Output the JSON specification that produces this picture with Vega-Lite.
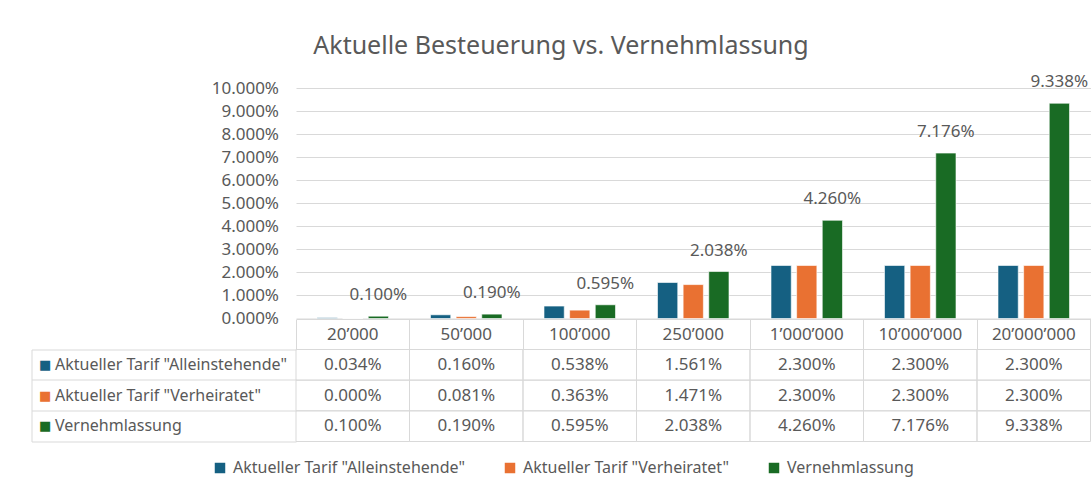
{
  "$schema": "https://vega.github.io/schema/vega-lite/v6.json",
  "background": "white",
  "padding": {"left": 31, "top": 34, "right": 0, "bottom": 1},
  "title": {"text": "Aktuelle Besteuerung vs. Vernehmlassung", "fontSize": 25, "font": "Noto Sans", "fontWeight": "normal", "color": "#595959", "anchor": "middle", "offset": 14},
  "data": {"values": [
    {"cat": "20’000", "series": "Aktueller Tarif \"Alleinstehende\"", "value": 0.00034},
    {"cat": "20’000", "series": "Aktueller Tarif \"Verheiratet\"", "value": 0.0},
    {"cat": "20’000", "series": "Vernehmlassung", "value": 0.001},
    {"cat": "50’000", "series": "Aktueller Tarif \"Alleinstehende\"", "value": 0.0016},
    {"cat": "50’000", "series": "Aktueller Tarif \"Verheiratet\"", "value": 0.00081},
    {"cat": "50’000", "series": "Vernehmlassung", "value": 0.0019},
    {"cat": "100’000", "series": "Aktueller Tarif \"Alleinstehende\"", "value": 0.00538},
    {"cat": "100’000", "series": "Aktueller Tarif \"Verheiratet\"", "value": 0.00363},
    {"cat": "100’000", "series": "Vernehmlassung", "value": 0.00595},
    {"cat": "250’000", "series": "Aktueller Tarif \"Alleinstehende\"", "value": 0.01561},
    {"cat": "250’000", "series": "Aktueller Tarif \"Verheiratet\"", "value": 0.01471},
    {"cat": "250’000", "series": "Vernehmlassung", "value": 0.02038},
    {"cat": "1’000’000", "series": "Aktueller Tarif \"Alleinstehende\"", "value": 0.023},
    {"cat": "1’000’000", "series": "Aktueller Tarif \"Verheiratet\"", "value": 0.023},
    {"cat": "1’000’000", "series": "Vernehmlassung", "value": 0.0426},
    {"cat": "10’000’000", "series": "Aktueller Tarif \"Alleinstehende\"", "value": 0.023},
    {"cat": "10’000’000", "series": "Aktueller Tarif \"Verheiratet\"", "value": 0.023},
    {"cat": "10’000’000", "series": "Vernehmlassung", "value": 0.07176},
    {"cat": "20’000’000", "series": "Aktueller Tarif \"Alleinstehende\"", "value": 0.023},
    {"cat": "20’000’000", "series": "Aktueller Tarif \"Verheiratet\"", "value": 0.023},
    {"cat": "20’000’000", "series": "Vernehmlassung", "value": 0.09338}
  ]},
  "spacing": -8.5,
  "vconcat": [
    {
      "width": 794.5,
      "height": 230.5,
      "encoding": {
        "x": {"field": "cat", "type": "nominal", "scale": {"domain": ["20’000", "50’000", "100’000", "250’000", "1’000’000", "10’000’000", "20’000’000"], "paddingInner": 0, "paddingOuter": 0},
              "axis": {"title": null, "labels": false, "ticks": false, "domain": true, "domainColor": "#d9d9d9", "domainWidth": 1, "grid": false}},
        "xOffset": {"field": "series", "type": "nominal", "scale": {"domain": ["Aktueller Tarif \"Alleinstehende\"", "Aktueller Tarif \"Verheiratet\"", "Vernehmlassung"], "paddingInner": 0.21, "paddingOuter": 0.82}},
        "y": {"field": "value", "type": "quantitative", "scale": {"domain": [0, 0.1], "nice": false},
              "axis": {"title": null, "format": ".3%", "values": [0, 0.01, 0.02, 0.03, 0.04, 0.05, 0.06, 0.07, 0.08, 0.09, 0.1], "labelOverlap": false, "grid": true, "gridColor": "#d9d9d9", "domain": false, "ticks": false, "tickSize": 0, "labelPadding": 17.5, "labelFontSize": 17}}
      },
      "layer": [
        {
          "mark": {"type": "bar", "stroke": "white", "strokeWidth": 0.6},
          "encoding": {
            "color": {"field": "series", "type": "nominal", "scale": {"domain": ["Aktueller Tarif \"Alleinstehende\"", "Aktueller Tarif \"Verheiratet\"", "Vernehmlassung"], "range": ["#156082", "#E97132", "#196B24"]},
                      "legend": {"orient": "none", "legendX": -84, "legendY": 372, "direction": "horizontal", "title": null, "symbolType": "square", "symbolSize": 110, "symbolStrokeWidth": 0, "labelFontSize": 16, "labelColor": "#595959", "columnPadding": 37, "labelOffset": 5, "labelLimit": 400}}
          }
        },
        {
          "transform": [{"filter": "datum.series == 'Vernehmlassung'"}],
          "mark": {"type": "text", "dy": -21, "baseline": "middle", "fontSize": 17, "fill": "#595959"},
          "encoding": {
            "text": {"field": "value", "type": "quantitative", "format": ".3%"}
          }
        }
      ]
    },
    {
      "width": 794.5,
      "height": 92,
      "resolve": {"axis": {"x": "independent", "y": "independent"}},
      "layer": [
        {
          "mark": {"type": "rect", "fill": "transparent", "stroke": "#d9d9d9", "strokeWidth": 1},
          "encoding": {
            "x": {"field": "cat", "type": "nominal", "scale": {"domain": ["20’000", "50’000", "100’000", "250’000", "1’000’000", "10’000’000", "20’000’000"], "paddingInner": 0, "paddingOuter": 0},
                  "axis": {"orient": "top", "title": null, "labels": false, "domain": false, "grid": false, "ticks": true, "bandPosition": 1, "tickExtra": true, "tickSize": 30, "tickColor": "#d9d9d9"}},
            "y": {"field": "series", "type": "nominal", "scale": {"domain": ["Aktueller Tarif \"Alleinstehende\"", "Aktueller Tarif \"Verheiratet\"", "Vernehmlassung"], "paddingInner": 0, "paddingOuter": 0},
                  "axis": {"orient": "left", "title": null, "labels": false, "domain": false, "grid": false, "ticks": true, "bandPosition": 1, "tickExtra": true, "tickSize": 264.5, "tickColor": "#d9d9d9"}}
          }
        },
        {
          "mark": {"type": "text", "fontSize": 17, "fill": "#595959", "baseline": "middle"},
          "encoding": {
            "x": {"field": "cat", "type": "nominal",
                  "axis": {"orient": "top", "title": null, "labels": true, "domain": false, "grid": false, "ticks": false, "tickSize": 0, "labelPadding": 15, "labelBaseline": "middle", "labelAngle": 0, "labelFontSize": 17, "labelColor": "#595959"}},
            "y": {"field": "series", "type": "nominal",
                  "axis": {"orient": "left", "title": null, "labels": true, "domain": false, "grid": false, "ticks": false, "tickSize": 0, "labelAlign": "left", "labelPadding": 241.5, "labelLimit": 400, "labelFontSize": 16, "labelColor": "#595959"}},
            "text": {"field": "value", "type": "quantitative", "format": ".3%"}
          }
        },
        {
          "mark": {"type": "rect", "opacity": 0},
          "encoding": {
            "x": {"field": "cat", "type": "nominal", "axis": null},
            "y": {"field": "series", "type": "nominal",
                  "axis": {"orient": "left", "offset": 264.5, "title": null, "labels": true, "domain": true, "domainColor": "#d9d9d9", "grid": false, "ticks": false, "tickSize": 0, "labelExpr": "'■'", "labelAlign": "left", "labelPadding": -7, "labelFontSize": 13, "labelFont": "DejaVu Sans",
                           "labelColor": {"condition": [{"test": "datum.value === 'Vernehmlassung'", "value": "#196B24"}, {"test": "indexof(datum.value, 'Verheiratet') >= 0", "value": "#E97132"}], "value": "#156082"}}}
          }
        }
      ]
    }
  ],
  "config": {
    "font": "Noto Sans",
    "view": {"stroke": null},
    "axis": {"labelFont": "Noto Sans", "labelColor": "#595959", "labelFontSize": 17},
    "legend": {"labelFont": "Noto Sans"},
    "text": {"font": "Noto Sans"}
  }
}
